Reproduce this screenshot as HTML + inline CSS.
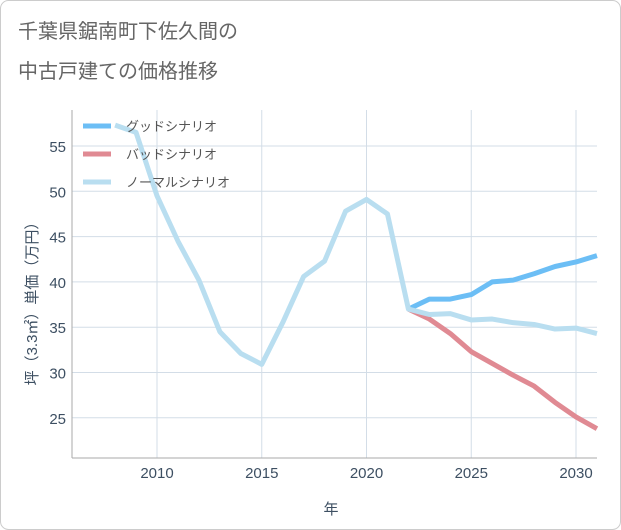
<!DOCTYPE html>
<html><head><meta charset="utf-8"><style>
body{margin:0;background:#fff;}
svg{display:block;font-family:"Liberation Sans","Noto Sans CJK JP",sans-serif;}
</style></head><body>
<svg id="chart" width="621" height="530">
<rect x="0.5" y="0.5" width="620" height="529" rx="8" fill="#fff" stroke="#ccc"/>
<text x="18" y="38" font-size="20" fill="#666">千葉県鋸南町下佐久間の</text>
<text x="18" y="78" font-size="20" fill="#666">中古戸建ての価格推移</text>
<g id="grid"></g>
<g id="series"></g>
<g id="legend"></g>
<text x="331" y="514" font-size="15" fill="#3d4f62" text-anchor="middle">年</text>
<text transform="translate(37,300) rotate(-90)" font-size="15" fill="#3d4f62" text-anchor="middle">坪（3.3㎡）単価（万円）</text>
</svg>
<script>
const years=[2008,2009,2010,2011,2012,2013,2014,2015,2016,2017,2018,2019,2020,2021,2022,2023,2024,2025,2026,2027,2028,2029,2030,2031];
const normal=[57.3,56.5,49.5,44.5,40.2,34.5,32.1,30.9,35.5,40.6,42.3,47.8,49.1,47.5,37.0,36.4,36.5,35.8,35.9,35.5,35.3,34.8,34.9,34.3];
const futureYears=[2022,2023,2024,2025,2026,2027,2028,2029,2030,2031];
const good=[37.0,38.1,38.1,38.6,40.0,40.2,40.9,41.7,42.2,42.9];
const bad=[37.0,35.9,34.3,32.3,31.0,29.7,28.5,26.7,25.1,23.8];
const xTicks=[2010,2015,2020,2025,2030];
const yTicks=[25,30,35,40,45,50,55];
const legendLabels=["グッドシナリオ","バッドシナリオ","ノーマルシナリオ"];
const L=72,R=597,T=110,B=458;
const x=v=>157+(v-2010)*20.95;
const y=v=>146+(55-v)*9.06;
const NS="http://www.w3.org/2000/svg";
function mk(tag,attrs,parent){const e=document.createElementNS(NS,tag);for(const k in attrs)e.setAttribute(k,attrs[k]);parent.appendChild(e);return e;}
const grid=document.getElementById('grid');
xTicks.forEach(t=>{const l=mk('line',{x1:x(t),x2:x(t),y1:T,y2:B,stroke:'#d3dde7','stroke-width':1},grid);

});
yTicks.forEach(t=>{const l=mk('line',{x1:L,x2:R,y1:y(t),y2:y(t),stroke:'#d3dde7','stroke-width':1},grid);

});
const ax=mk('line',{x1:L,x2:L,y1:T,y2:B,stroke:'#aaa'},grid);


const bx=mk('line',{x1:L,x2:R,y1:B,y2:B,stroke:'#aaa'},grid);


xTicks.forEach(t=>{const e=mk('text',{x:x(t),y:478,'font-size':15,fill:'#3d4f62','text-anchor':'middle'},grid);e.textContent=t;

});
yTicks.forEach(t=>{const e=mk('text',{x:66,y:y(t)+6,'font-size':15,fill:'#3d4f62','text-anchor':'end'},grid);e.textContent=t;

});
const S=document.getElementById('series');
function line(xs,vs,color,name){const p=mk('polyline',{points:xs.map((t,i)=>x(t)+','+y(vs[i])).join(' '),fill:'none',stroke:color,'stroke-width':5,'stroke-linejoin':'round','stroke-linecap':'butt'},S);

}
line(futureYears,good,'#6cbef5','good-scenario-line');
line(futureYears,bad,'#e08a93','bad-scenario-line');
line(years,normal,'#b9def0','normal-scenario-line');
const colors=['#6cbef5','#e08a93','#b9def0'];
const LG=document.getElementById('legend');
legendLabels.forEach((lab,i)=>{const yy=126+i*28;
const l=mk('line',{x1:83,x2:111,y1:yy,y2:yy,stroke:colors[i],'stroke-width':5},LG);


const t=mk('text',{x:126,y:yy+5,'font-size':13,fill:'#555'},LG);t.textContent=lab;

});
</script>
</body></html>
